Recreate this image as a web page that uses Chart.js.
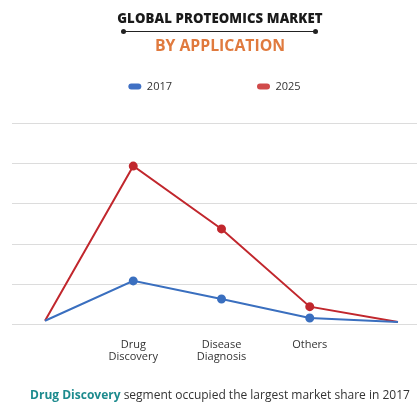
<!DOCTYPE html>
<html>
<head>
<meta charset="utf-8">
<script src="https://cdn.jsdelivr.net/npm/chart.js@4"></script>
<style>
  html, body { margin: 0; padding: 0; background: #fff; }
  #page { position: relative; width: 417px; height: 403px; overflow: hidden; font-family: "Open Sans", sans-serif; }
  #chartBox { position: absolute; left: 0; top: -4px; width: 417px; height: 407px; }
  #title { position: absolute; top: 9px; left: 23px; width: 394px; text-align: center; font-weight: 800; font-size: 13.2px; color: #1a1a1a; letter-spacing: 0.1px; z-index: 2; }
  #rule { position: absolute; top: 31px; left: 123px; width: 193px; height: 0; border-top: 1.5px solid #222; z-index: 2; }
  #rule:before, #rule:after { content: ""; position: absolute; top: -3.5px; width: 5px; height: 5px; border-radius: 50%; background: #222; }
  #rule:before { left: -2px; }
  #rule:after { right: -2px; }
  #subtitle { position: absolute; top: 34px; left: 23px; width: 394px; text-align: center; font-weight: 700; font-size: 15.8px; color: #e07a3e; z-index: 2; }
  #caption { position: absolute; top: 386px; left: 23px; width: 394px; text-align: center; font-size: 12px; color: #333; z-index: 2; }
  #caption b { color: #1d8b8e; }
</style>
</head>
<body>
<div id="page">
  <div id="title">GLOBAL PROTEOMICS MARKET</div>
  <div id="rule"></div>
  <div id="subtitle">BY APPLICATION</div>
  <div id="chartBox"><canvas id="myChart"></canvas></div>
  <div id="caption"><b>Drug Discovery</b> segment occupied the largest market share in 2017</div>
</div>
<script>
// categories (first and last points have no label)
const categories = ['', ['Drug', 'Discovery'], ['Disease', 'Diagnosis'], 'Others', ''];

// series values
const values2017 = [0.1, 1.09, 0.64, 0.17, 0.07];
const values2025 = [0.1, 3.94, 2.38, 0.45, 0.07];

// markers only on the labelled points
const markerSizes = [0, 3.5, 3.5, 3.5, 0];

const blue = '#3a6fbf';
const red = '#c1272d';

const ctx = document.getElementById('myChart');

new Chart(ctx, {
  type: 'line',
  data: {
    labels: categories,
    datasets: [{
      label: '2017',
      data: values2017,
      borderColor: blue,
      backgroundColor: '#3f70c4',
      pointBackgroundColor: blue,
      pointBorderColor: blue,
      pointRadius: markerSizes,
      borderWidth: 2,
      tension: 0
    }, {
      label: '2025',
      data: values2025,
      borderColor: red,
      backgroundColor: '#d04a4a',
      pointBackgroundColor: red,
      pointBorderColor: red,
      pointRadius: markerSizes,
      borderWidth: 2,
      tension: 0
    }]
  },
  options: {
    responsive: true,
    maintainAspectRatio: false,
    animation: false,
    layout: {
      padding: { left: 12, right: 0, top: 0, bottom: 26 }
    },
    plugins: {
      tooltip: { enabled: false },
      legend: {
        position: 'top',
        labels: {
          boxWidth: 13,
          boxHeight: 6,
          useBorderRadius: true,
          borderRadius: 3,
          padding: 85,
          color: '#333',
          font: { family: 'Open Sans', size: 11 },
          generateLabels: function (chart) {
            const items = Chart.defaults.plugins.legend.labels.generateLabels(chart);
            items.forEach(function (item) { item.lineWidth = 0; });
            return items;
          }
        }
      }
    },
    scales: {
      x: {
        grid: { display: false, drawTicks: false },
        border: { display: false },
        ticks: {
          padding: 14,
          color: '#333',
          autoSkip: false,
          maxRotation: 0,
          font: { family: 'Open Sans', size: 11, lineHeight: 1.1 }
        }
      },
      y: {
        min: 0,
        max: 5.53,
        border: { display: false },
        grid: { color: '#dcdcdc', tickLength: 33, drawTicks: true },
        ticks: { display: false, stepSize: 1, includeBounds: false }
      },
      y2: {
        position: 'right',
        min: 0,
        max: 5.53,
        border: { display: false },
        grid: { color: '#dcdcdc', tickLength: 19, drawOnChartArea: false },
        ticks: { display: false, stepSize: 1, includeBounds: false }
      }
    }
  }
});
</script>
</body>
</html>
